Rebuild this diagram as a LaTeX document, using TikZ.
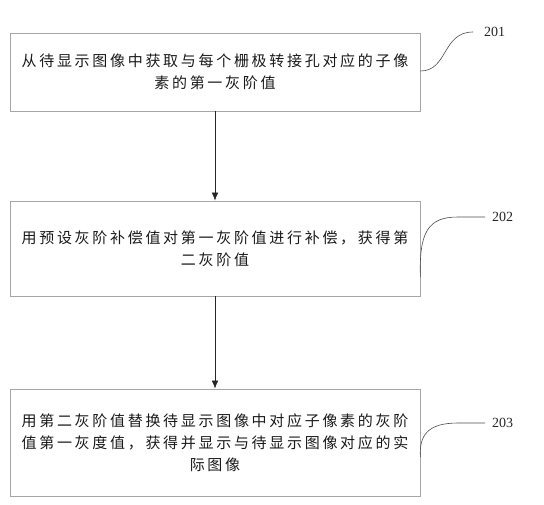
\documentclass[tikz,border=0pt]{standalone}
\usepackage{fontspec}
\setmainfont{Liberation Serif}
\newfontfamily\cjk[LetterSpace=18]{Noto Sans CJK SC}
\usetikzlibrary{arrows.meta}

\begin{document}
\begin{tikzpicture}[x=1pt, y=-1pt,
        stepbox/.style={draw=gray!70, line width=0.8pt, minimum width=410pt, inner sep=0pt,
            align=center, text=black!90, font=\cjk\fontsize{15}{22}\selectfont},
        flow/.style={-{Latex[length=8pt,width=6.5pt]}, line width=0.6pt, black!85},
        lead/.style={black!70, line width=0.6pt},
        num/.style={anchor=west, inner sep=0pt, text=black!85, font=\fontsize{14}{14}\selectfont}]
        % 画布大小
        \useasboundingbox (0,0) rectangle (544,504);

        % 三个步骤框
        \node[stepbox, minimum height=78pt] (s201) at (215, 72) {从待显示图像中获取与每个栅极转接孔对应的子像\\素的第一灰阶值};
        \node[stepbox, minimum height=95pt] (s202) at (215, 248.5) {用预设灰阶补偿值对第一灰阶值进行补偿，获得第\\二灰阶值};
        \node[stepbox, minimum height=107pt] (s203) at (215, 442.5) {用第二灰阶值替换待显示图像中对应子像素的灰阶\\值第一灰度值，获得并显示与待显示图像对应的实\\际图像};

        % 步骤编号
        \node[num] (n201) at (484, 32) {201};
        \node[num] (n202) at (492, 217) {202};
        \node[num] (n203) at (492, 423) {203};
        \coordinate (e201) at (473, 32);
        \coordinate (e202) at (485, 217);
        \coordinate (e203) at (485, 423);

        % 步骤之间的箭头
        \draw[flow] (s201) -- (s202);
        \draw[flow] (s202) -- (s203);

        % 编号引线
        \draw[lead] ([yshift=1pt]s201.east) .. controls (448, 71) and (442, 32) .. (e201);
        \draw[lead] ([yshift=-28.5pt]s202.east) .. controls (419, 232) and (428, 217) .. (458, 217) -- (e202);
        \draw[lead] ([yshift=-14.5pt]s203.east) .. controls (419, 435) and (428, 423) .. (458, 423) -- (e203);
\end{tikzpicture}
\end{document}
